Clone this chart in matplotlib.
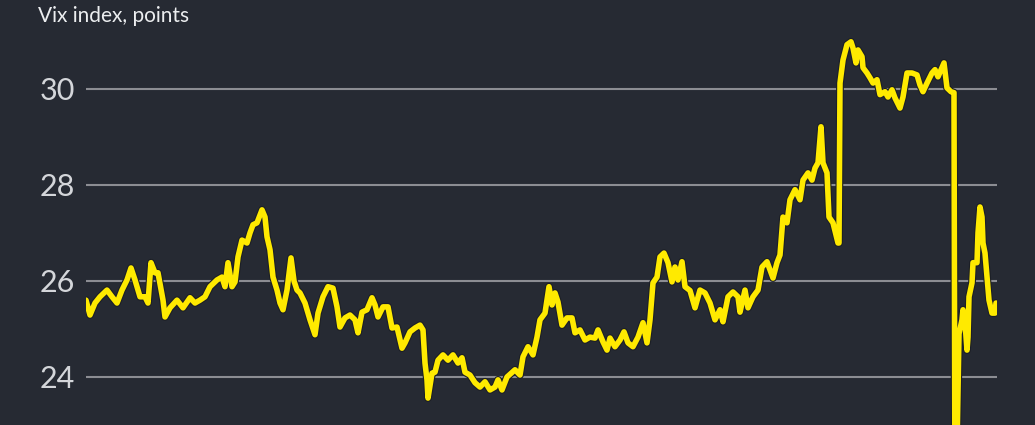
import matplotlib
matplotlib.use("Agg")
import matplotlib.pyplot as plt
import matplotlib.patheffects as pe

# sample index (intraday) and Vix level
t = [0, 4, 9, 14, 21, 26, 31, 36, 41, 45, 49, 54, 59, 62, 65, 69, 72, 77, 79, 84,
     91, 97, 104, 109, 114, 119, 124, 131, 136, 139, 142, 146, 149, 152, 156, 161,
     164, 167, 171, 176, 179, 181, 184, 187, 191, 194, 197, 201, 205, 208, 211, 214,
     219, 224, 229, 232, 237, 242, 247, 251, 254, 259, 264, 269, 272, 276, 281, 286,
     289, 292, 297, 302, 306, 311, 316, 319, 324, 329, 334, 337, 339, 341, 342, 346,
     349, 352, 357, 362, 367, 372, 376, 379, 384, 389, 394, 399, 404, 409, 412, 416,
     421, 429, 434, 437, 442, 447, 451, 454, 459, 463, 466, 469, 472, 476, 481, 486,
     489, 494, 499, 504, 509, 512, 517, 521, 524, 529, 534, 538, 542, 547, 552, 557,
     561, 564, 567, 571, 574, 578, 582, 586, 589, 592, 596, 599, 604, 609, 614, 619,
     624, 629, 634, 637, 642, 647, 652, 654, 659, 662, 667, 672, 676, 681, 684, 687,
     691, 694, 697, 701, 704, 709, 714, 717, 722, 726, 729, 732, 735, 737, 741, 743,
     747, 752, 753, 754, 757, 761, 765, 767, 770, 772, 776, 777, 781, 784, 787, 791,
     794, 799, 802, 806, 809, 814, 817, 821, 826, 831, 834, 837, 841, 846, 849, 852,
     858, 861, 865, 868, 869, 871, 873, 876, 877, 879, 881, 882, 883, 886, 887, 891,
     892, 894, 896, 897, 899, 901, 903, 906, 909, 910]
vix = [25.60, 25.29, 25.54, 25.67, 25.81, 25.67, 25.54, 25.81, 26.02, 26.27, 26.02,
       25.67, 25.67, 25.54, 26.38, 26.17, 26.17, 25.60, 25.25, 25.44, 25.60, 25.44,
       25.65, 25.54, 25.60, 25.67, 25.88, 26.02, 26.08, 25.88, 26.38, 25.88, 25.98,
       26.50, 26.85, 26.79, 27.00, 27.17, 27.21, 27.48, 27.33, 26.92, 26.65, 26.08,
       25.81, 25.54, 25.40, 25.81, 26.48, 26.00, 25.81, 25.75, 25.54, 25.19, 24.88,
       25.33, 25.67, 25.88, 25.85, 25.46, 25.04, 25.23, 25.29, 25.19, 24.92, 25.35,
       25.40, 25.65, 25.50, 25.25, 25.46, 25.46, 25.02, 25.04, 24.60, 24.71, 24.94,
       25.02, 25.08, 24.98, 24.29, 23.94, 23.56, 24.08, 24.10, 24.35, 24.46, 24.35,
       24.46, 24.29, 24.40, 24.10, 24.04, 23.88, 23.79, 23.90, 23.73, 23.79, 23.94,
       23.73, 24.00, 24.15, 24.04, 24.42, 24.63, 24.46, 24.83, 25.19, 25.33, 25.88,
       25.50, 25.75, 25.56, 25.08, 25.23, 25.23, 24.92, 24.98, 24.77, 24.83, 24.81,
       24.98, 24.73, 24.56, 24.81, 24.63, 24.77, 24.94, 24.71, 24.63, 24.83, 25.13,
       24.71, 25.19, 25.96, 26.08, 26.50, 26.58, 26.38, 25.98, 26.29, 26.02, 26.40,
       25.88, 25.80, 25.44, 25.81, 25.75, 25.54, 25.19, 25.40, 25.15, 25.67, 25.77,
       25.67, 25.35, 25.81, 25.44, 25.67, 25.81, 26.29, 26.40, 26.23, 26.06, 26.38,
       26.54, 27.33, 27.21, 27.69, 27.90, 27.69, 28.10, 28.25, 28.10, 28.35, 28.46,
       29.21, 28.46, 28.25, 27.33, 27.21, 26.79, 26.79, 30.12, 30.60, 30.92, 30.98,
       30.85, 30.54, 30.81, 30.67, 30.44, 30.33, 30.23, 30.12, 30.19, 29.88, 29.94,
       29.83, 29.98, 29.81, 29.60, 29.83, 30.33, 30.33, 30.29, 30.08, 29.94, 30.12,
       30.33, 30.40, 30.25, 30.54, 30.02, 29.94, 29.92, 21.00, 22.50, 24.90, 25.19,
       25.40, 25.13, 24.56, 24.83, 25.67, 25.96, 26.38, 26.38, 27.00, 27.54, 27.33,
       26.79, 26.58, 26.08, 25.60, 25.33, 25.33, 25.54]
yticks = [24, 26, 28, 30]

bg = "#262a33"
fig = plt.figure(figsize=(10.35, 4.25), dpi=100, facecolor=bg)
ax = fig.add_axes([86 / 1035, 0, 911 / 1035, 1])
ax.set_facecolor(bg)

ax.plot(t, vix, color="#ffea00", lw=4.0, solid_joinstyle="round",
        solid_capstyle="round", zorder=3,
        path_effects=[pe.Stroke(linewidth=5.6, foreground="#1c1f26"), pe.Normal()])

ax.set_xlim(0, 911)
ax.set_ylim(23.0, 31.85)
ax.set_yticks(yticks)
ax.set_xticks([])
ax.grid(axis="y", color="#8c8d93", lw=1.5)
for s in ax.spines.values():
    s.set_visible(False)
ax.tick_params(axis="y", length=0, pad=8, labelsize=22, labelcolor="#d4d6da")
for lab in ax.get_yticklabels():
    lab.set_fontfamily("Lato")

fig.text(38 / 1035, 1 - 16 / 425, "Vix index, points", color="#eceef0",
         fontsize=15, family="Lato", va="center", ha="left")

fig.savefig("out.png", dpi=100, facecolor=bg)
